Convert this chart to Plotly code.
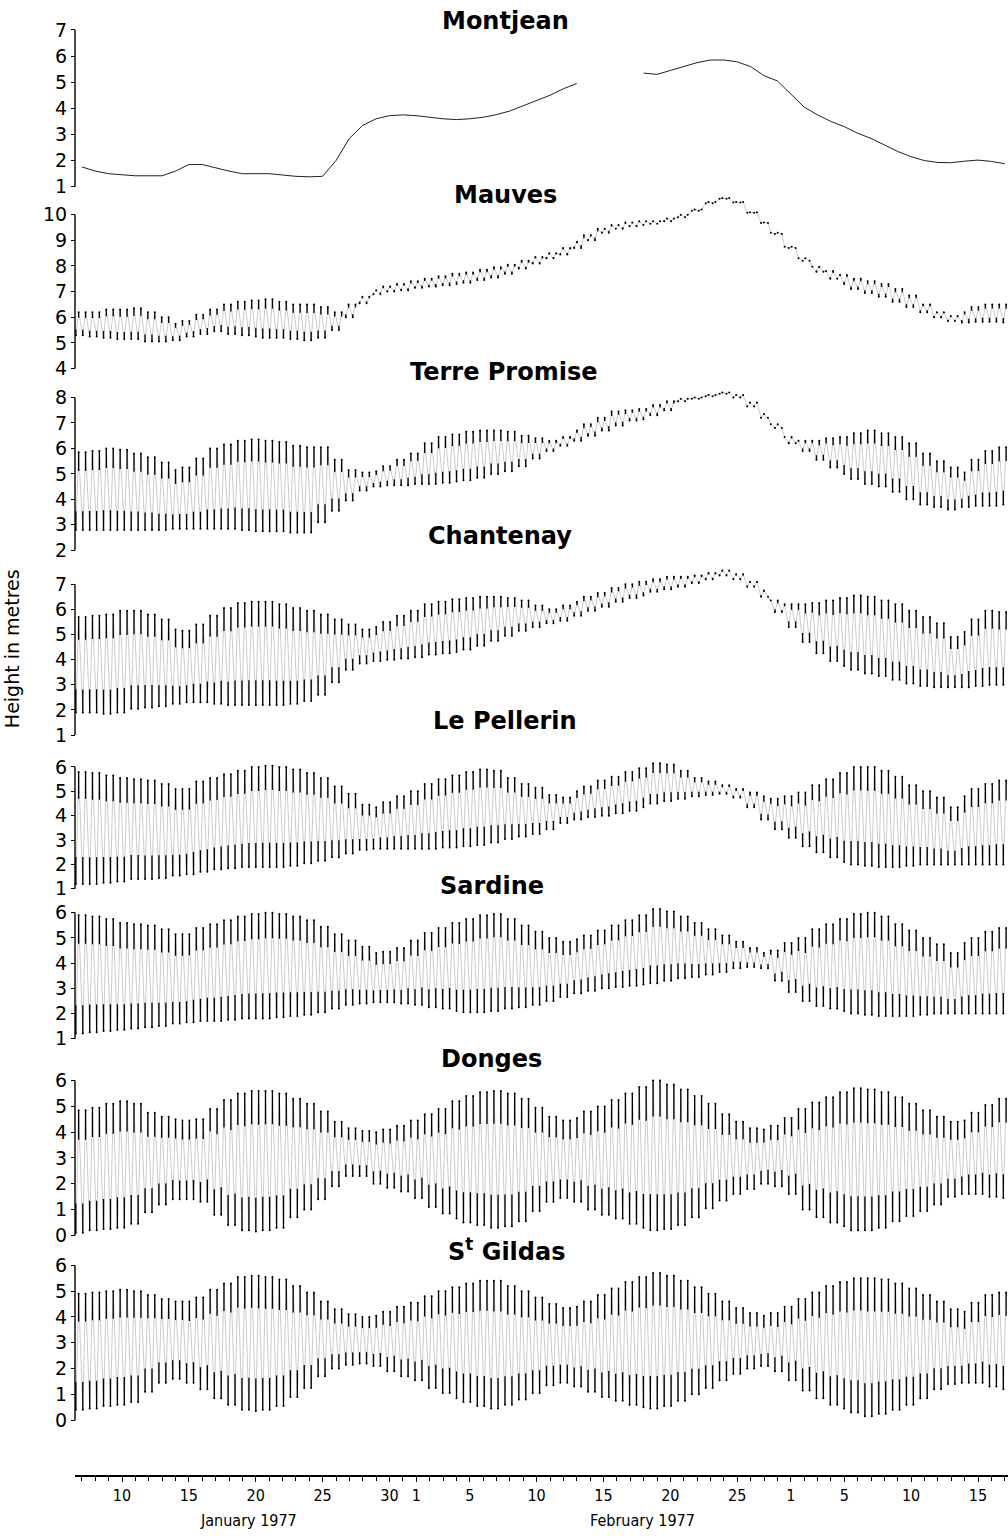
import plotly.graph_objects as go

# Water levels on the Loire estuary, January - March 1977.
# Day numbers count from 0 January 1977 (1 Feb = 32, 1 Mar = 60).
DAYS = list(range(7, 77))

# River gauge (no tide): daily level in metres
MONTJEAN = [1.76, 1.6, 1.5, 1.45, 1.42, 1.42, 1.42, 1.6, 1.85, 1.85,
            1.72, 1.6, 1.5, 1.5, 1.5, 1.45, 1.4, 1.38, 1.4, 2.0,
            2.85, 3.35, 3.6, 3.72, 3.75, 3.72, 3.66, 3.6, 3.57, 3.6,
            3.66, 3.76, 3.9, 4.1, 4.3, 4.5, 4.75, 4.95, None, None,
            None, None, 5.35, 5.3, 5.45, 5.6, 5.75, 5.85, 5.85, 5.78,
            5.6, 5.25, 5.05, 4.55, 4.05, 3.75, 3.5, 3.3, 3.05, 2.85,
            2.6, 2.35, 2.15, 2.0, 1.93, 1.92, 1.98, 2.02, 1.97, 1.88]

# Tidal gauges: daily high-water and low-water levels in metres
MAUVES_HW = [6.2, 6.2, 6.3, 6.3, 6.35, 6.2, 6.0, 5.75, 5.85, 6.1,
             6.3, 6.5, 6.6, 6.65, 6.7, 6.6, 6.5, 6.5, 6.4, 6.2,
             6.5, 6.8, 7.05, 7.2, 7.3, 7.4, 7.5, 7.6, 7.7, 7.75,
             7.85, 7.95, 8.05, 8.2, 8.35, 8.5, 8.7, 8.95, 9.2, 9.45,
             9.6, 9.7, 9.75, 9.75, 9.85, 10.0, 10.2, 10.5, 10.65, 10.5,
             10.1, 9.7, 9.3, 8.75, 8.3, 7.97, 7.8, 7.65, 7.5, 7.4,
             7.3, 7.1, 6.85, 6.5, 6.2, 6.05, 6.2, 6.4, 6.5, 6.5]
MAUVES_LW = [5.3, 5.25, 5.2, 5.15, 5.15, 5.05, 5.05, 5.1, 5.25, 5.35,
             5.45, 5.35, 5.3, 5.25, 5.2, 5.2, 5.15, 5.1, 5.2, 5.5,
             6.0, 6.55, 6.9, 7.0, 7.05, 7.15, 7.2, 7.25, 7.3, 7.35,
             7.45, 7.55, 7.7, 7.9, 8.1, 8.3, 8.45, 8.7, 9.0, 9.3,
             9.45, 9.55, 9.6, 9.65, 9.75, 9.9, 10.15, 10.45, 10.62, 10.48,
             10.08, 9.68, 9.25, 8.7, 8.2, 7.78, 7.5, 7.3, 7.1, 6.95,
             6.8, 6.6, 6.4, 6.2, 6.0, 5.85, 5.8, 5.82, 5.82, 5.8]

TERRE_HW = [5.85, 5.9, 6.0, 5.95, 5.8, 5.65, 5.45, 5.15, 5.25, 5.6,
            6.0, 6.15, 6.3, 6.35, 6.3, 6.25, 6.1, 6.05, 6.05, 5.55,
            5.15, 5.05, 5.1, 5.3, 5.55, 5.8, 6.2, 6.45, 6.55, 6.65,
            6.7, 6.7, 6.65, 6.5, 6.4, 6.3, 6.45, 6.7, 6.95, 7.2,
            7.45, 7.5, 7.55, 7.7, 7.85, 7.95, 8.0, 8.1, 8.2, 8.1,
            7.8, 7.35, 6.95, 6.45, 6.3, 6.3, 6.4, 6.45, 6.6, 6.7,
            6.6, 6.45, 6.2, 5.8, 5.5, 5.25, 5.05, 5.55, 5.9, 6.05]
TERRE_LW = [2.8, 2.8, 2.8, 2.8, 2.8, 2.8, 2.8, 2.85, 2.85, 2.85,
            2.85, 2.85, 2.8, 2.75, 2.75, 2.75, 2.7, 2.7, 3.1, 3.55,
            3.95, 4.35, 4.5, 4.55, 4.55, 4.6, 4.6, 4.65, 4.7, 4.75,
            4.85, 5.0, 5.1, 5.3, 5.6, 5.9, 6.1, 6.3, 6.5, 6.7,
            6.9, 7.1, 7.15, 7.3, 7.5, 7.85, 7.95, 8.05, 8.15, 8.0,
            7.65, 7.2, 6.8, 6.2, 5.9, 5.55, 5.25, 5.0, 4.8, 4.6,
            4.5, 4.3, 4.0, 3.8, 3.7, 3.6, 3.7, 3.75, 3.75, 3.8]

CHANTENAY_HW = [5.7, 5.75, 5.8, 5.95, 5.95, 5.8, 5.6, 5.2, 5.15, 5.4,
                5.75, 6.05, 6.25, 6.3, 6.3, 6.2, 6.05, 5.95, 5.8, 5.6,
                5.4, 5.2, 5.3, 5.5, 5.75, 5.95, 6.2, 6.3, 6.4, 6.45,
                6.5, 6.5, 6.45, 6.35, 6.15, 6.0, 6.15, 6.3, 6.5, 6.65,
                6.85, 7.0, 7.1, 7.2, 7.3, 7.3, 7.35, 7.45, 7.55, 7.4,
                7.1, 6.75, 6.35, 6.2, 6.2, 6.25, 6.35, 6.45, 6.55, 6.5,
                6.35, 6.2, 5.95, 5.7, 5.45, 4.9, 5.1, 5.6, 5.95, 5.9]
CHANTENAY_LW = [1.9, 1.9, 1.85, 1.9, 2.05, 2.1, 2.15, 2.25, 2.3, 2.3,
                2.25, 2.2, 2.2, 2.2, 2.2, 2.2, 2.25, 2.35, 2.6, 3.1,
                3.6, 3.85, 3.95, 4.0, 4.05, 4.1, 4.2, 4.25, 4.3, 4.4,
                4.55, 4.75, 4.95, 5.15, 5.3, 5.45, 5.55, 5.75, 5.95, 6.1,
                6.3, 6.45, 6.55, 6.7, 6.8, 6.9, 7.05, 7.2, 7.35, 7.2,
                6.9, 6.5, 5.9, 5.3, 4.7, 4.25, 3.95, 3.75, 3.6, 3.45,
                3.35, 3.2, 3.05, 2.95, 2.9, 2.9, 2.9, 2.95, 3.0, 3.0]

PELLERIN_HW = [5.8, 5.75, 5.65, 5.55, 5.5, 5.45, 5.3, 5.1, 5.1, 5.4,
               5.55, 5.7, 5.85, 6.0, 6.05, 6.0, 5.9, 5.75, 5.55, 5.2,
               4.9, 4.45, 4.35, 4.55, 4.8, 5.0, 5.3, 5.5, 5.65, 5.8,
               5.9, 5.85, 5.55, 5.3, 5.15, 4.85, 4.75, 5.0, 5.2, 5.45,
               5.6, 5.8, 5.95, 6.15, 6.1, 5.85, 5.55, 5.4, 5.25, 5.1,
               4.95, 4.8, 4.7, 4.8, 4.95, 5.25, 5.5, 5.75, 6.0, 6.0,
               5.85, 5.6, 5.25, 5.0, 4.75, 4.35, 4.8, 5.1, 5.3, 5.45]
PELLERIN_LW = [1.2, 1.2, 1.25, 1.3, 1.4, 1.4, 1.45, 1.55, 1.6, 1.7,
               1.8, 1.85, 1.9, 1.9, 1.9, 1.9, 1.95, 2.05, 2.15, 2.3,
               2.45, 2.6, 2.65, 2.65, 2.65, 2.65, 2.65, 2.7, 2.7, 2.75,
               2.8, 2.9, 3.05, 3.15, 3.25, 3.45, 3.7, 3.85, 3.95, 4.0,
               4.1, 4.2, 4.35, 4.5, 4.6, 4.7, 4.8, 4.85, 4.9, 4.75,
               4.35, 3.85, 3.45, 3.1, 2.75, 2.5, 2.3, 2.1, 2.0, 1.95,
               1.9, 1.9, 1.95, 2.0, 2.0, 2.0, 2.0, 2.0, 2.0, 2.0]

SARDINE_HW = [5.9, 5.85, 5.75, 5.6, 5.55, 5.5, 5.35, 5.15, 5.15, 5.4,
              5.55, 5.7, 5.85, 5.95, 6.0, 5.95, 5.85, 5.7, 5.45, 5.15,
              4.9, 4.65, 4.4, 4.45, 4.6, 4.9, 5.2, 5.4, 5.6, 5.75,
              5.9, 5.95, 5.75, 5.5, 5.25, 5.0, 4.85, 4.95, 5.1, 5.3,
              5.5, 5.7, 5.9, 6.15, 6.05, 5.85, 5.6, 5.35, 5.1, 4.85,
              4.6, 4.4, 4.5, 4.8, 5.0, 5.35, 5.55, 5.75, 5.95, 6.0,
              5.85, 5.55, 5.3, 5.0, 4.75, 4.4, 4.8, 5.0, 5.25, 5.4]
SARDINE_LW = [1.2, 1.25, 1.3, 1.35, 1.4, 1.45, 1.5, 1.6, 1.65, 1.7,
              1.7, 1.75, 1.8, 1.8, 1.8, 1.85, 1.9, 1.95, 2.05, 2.2,
              2.35, 2.4, 2.45, 2.45, 2.4, 2.35, 2.25, 2.2, 2.1, 2.05,
              2.05, 2.1, 2.2, 2.25, 2.35, 2.5, 2.65, 2.8, 2.9, 3.0,
              3.05, 3.1, 3.15, 3.2, 3.3, 3.4, 3.45, 3.55, 3.65, 3.8,
              3.85, 3.8, 3.3, 2.85, 2.5, 2.3, 2.2, 2.1, 2.0, 1.95,
              1.9, 1.9, 1.9, 1.95, 2.0, 2.0, 2.0, 2.0, 2.0, 2.0]

DONGES_HW = [4.85, 4.95, 5.1, 5.2, 5.1, 4.75, 4.6, 4.5, 4.45, 4.5,
             4.9, 5.25, 5.5, 5.6, 5.6, 5.5, 5.3, 5.1, 4.8, 4.4,
             4.15, 4.05, 4.0, 4.1, 4.25, 4.45, 4.7, 4.9, 5.2, 5.4,
             5.55, 5.6, 5.5, 5.3, 4.95, 4.6, 4.45, 4.55, 4.8, 5.0,
             5.25, 5.5, 5.75, 6.0, 5.85, 5.65, 5.4, 5.1, 4.7, 4.4,
             4.15, 4.1, 4.25, 4.55, 4.9, 5.15, 5.35, 5.55, 5.7, 5.65,
             5.55, 5.35, 5.1, 4.85, 4.6, 4.4, 4.45, 4.75, 5.05, 5.3]
DONGES_LW = [0.1, 0.2, 0.25, 0.3, 0.45, 0.9, 1.2, 1.4, 1.4, 1.3,
             0.8, 0.4, 0.2, 0.15, 0.2, 0.3, 0.7, 1.0, 1.4, 1.9,
             2.3, 2.3, 2.0, 1.85, 1.7, 1.45, 1.1, 0.85, 0.65, 0.5,
             0.4, 0.3, 0.35, 0.55, 0.95, 1.3, 1.45, 1.3, 1.0, 0.8,
             0.65, 0.45, 0.3, 0.2, 0.25, 0.4, 0.7, 1.05, 1.35, 1.6,
             1.8, 2.0, 1.9, 1.6, 1.0, 0.7, 0.5, 0.35, 0.2, 0.2,
             0.3, 0.55, 0.75, 0.95, 1.2, 1.5, 1.6, 1.6, 1.5, 1.45]

GILDAS_HW = [4.9, 4.95, 5.0, 5.05, 5.0, 4.85, 4.7, 4.6, 4.6, 4.75,
             5.05, 5.3, 5.55, 5.6, 5.55, 5.45, 5.2, 4.95, 4.6, 4.3,
             4.1, 4.0, 4.05, 4.2, 4.4, 4.55, 4.8, 5.0, 5.15, 5.3,
             5.4, 5.4, 5.2, 5.0, 4.75, 4.5, 4.35, 4.4, 4.6, 4.85,
             5.1, 5.35, 5.55, 5.7, 5.6, 5.4, 5.15, 4.9, 4.6, 4.35,
             4.15, 4.05, 4.15, 4.4, 4.7, 4.95, 5.2, 5.35, 5.5, 5.5,
             5.45, 5.3, 5.1, 4.85, 4.6, 4.3, 4.2, 4.55, 4.85, 4.95]
GILDAS_LW = [0.4, 0.45, 0.55, 0.6, 0.7, 1.1, 1.45, 1.6, 1.45, 1.2,
             0.85, 0.6, 0.4, 0.35, 0.4, 0.55, 0.9, 1.25, 1.7, 2.0,
             2.15, 2.2, 2.1, 1.9, 1.7, 1.55, 1.25, 1.05, 0.85, 0.7,
             0.55, 0.45, 0.6, 0.8, 1.05, 1.35, 1.45, 1.3, 1.1, 0.9,
             0.75, 0.6, 0.5, 0.45, 0.55, 0.75, 1.0, 1.25, 1.55, 1.8,
             2.0, 2.1, 1.9, 1.55, 1.15, 0.85, 0.6, 0.45, 0.3, 0.15,
             0.25, 0.4, 0.6, 0.85, 1.2, 1.4, 1.45, 1.45, 1.3, 1.2]

X_TICK_DAYS = [10, 15, 20, 25, 30, 32, 36, 41, 46, 51, 56, 60, 64, 69, 74]
X_TICK_TEXT = ["10", "15", "20", "25", "30", "1", "5", "10", "15", "20", "25",
               "1", "5", "10", "15"]
MONTH_LABELS = ["January 1977", "February 1977"]

for series in (MONTJEAN, MAUVES_HW, MAUVES_LW, TERRE_HW, TERRE_LW,
               CHANTENAY_HW, CHANTENAY_LW, PELLERIN_HW, PELLERIN_LW,
               SARDINE_HW, SARDINE_LW, DONGES_HW, DONGES_LW,
               GILDAS_HW, GILDAS_LW):
    assert len(series) == len(DAYS)

# ---- page geometry (pixels) ----
W, H = 1008, 1536
AXIS_PX = 75                      # left edge of every panel
DAY10_PX, PX_PER_DAY = 122, 13.375


def px_to_day(px):
    return 10 + (px - DAY10_PX) / PX_PER_DAY


def yp(px):
    return 1 - px / H


# title, high (or level), low, axis min, axis max, px of min, px of max, title centre
PANELS = [
    ("Montjean", MONTJEAN, None, 1, 7, 187, 30, 505, 21),
    ("Mauves", MAUVES_HW, MAUVES_LW, 4, 10, 369, 215, 505, 195),
    ("Terre Promise", TERRE_HW, TERRE_LW, 2, 8, 551, 398, 503, 372),
    ("Chantenay", CHANTENAY_HW, CHANTENAY_LW, 1, 7, 736, 585, 500, 537),
    ("Le Pellerin", PELLERIN_HW, PELLERIN_LW, 1, 6, 890, 768, 505, 722),
    ("Sardine", SARDINE_HW, SARDINE_LW, 1, 6, 1040, 914, 492, 887),
    ("Donges", DONGES_HW, DONGES_LW, 0, 6, 1237, 1082, 491, 1060),
    ("S<sup>t</sup> Gildas", GILDAS_HW, GILDAS_LW, 0, 6, 1422, 1267, 507, 1252),
]

TIDE_PERIOD = 12.42 / 24.0
FIRST_LOW = 6.55
RISE_FRACTION = 0.4
STROKE_FRACTION = 0.24


def day_index(t):
    return min(max(int(round(t)) - DAYS[0], 0), len(DAYS) - 1)


def tide_record(high, low):
    """Semi-diurnal trace built from the daily high/low water levels."""
    zx, zy = [], []
    hx, hy, hlen = [], [], []
    lx, ly, llen = [], [], []
    t = FIRST_LOW
    while t < 76.3:
        il = day_index(t)
        th = t + RISE_FRACTION * TIDE_PERIOD
        ih = day_index(th)
        lo_v, hi_v = low[il], high[ih]
        zx += [t, th]
        zy += [lo_v, hi_v]
        rng = max(hi_v - lo_v, 0)
        lx.append(t); ly.append(lo_v); llen.append(STROKE_FRACTION * rng)
        hx.append(th); hy.append(hi_v); hlen.append(STROKE_FRACTION * rng)
        t += TIDE_PERIOD
    return zx, zy, (hx, hy, hlen), (lx, ly, llen)


fig = go.Figure()
layout = dict(
    width=W, height=H,
    margin=dict(l=0, r=0, t=0, b=0),
    paper_bgcolor="white", plot_bgcolor="white",
    showlegend=False,
    font=dict(family="DejaVu Sans", color="black"),
    xaxis=dict(
        domain=[AXIS_PX / W, 1.0],
        range=[px_to_day(AXIS_PX), px_to_day(W)],
        anchor="free", position=yp(1478),
        showgrid=False, zeroline=False,
        showline=True, linecolor="black", linewidth=1.8,
        tickmode="array", tickvals=X_TICK_DAYS, ticktext=X_TICK_TEXT,
        ticks="outside", ticklen=5, tickwidth=1.2, tickcolor="black",
        minor=dict(ticks="outside", tickmode="linear", tick0=0, dtick=1,
                   ticklen=4, tickwidth=1, tickcolor="black"),
        tickfont=dict(family="Liberation Sans Narrow, DejaVu Sans Condensed, Liberation Sans",
                      size=16, color="black"),
    ),
)

shapes, annotations = [], []
PAD_LO, PAD_HI = 0.35, 0.9

for k, (title, high, low, vmin, vmax, px_min, px_max, tx, ty) in enumerate(PANELS):
    n = k + 1
    yname = "yaxis" if n == 1 else f"yaxis{n}"
    yref = "y" if n == 1 else f"y{n}"
    ppu = (px_min - px_max) / (vmax - vmin)
    bottom_px = px_min + PAD_LO * ppu
    top_px = px_max - PAD_HI * ppu
    layout[yname] = dict(
        domain=[yp(bottom_px), yp(top_px)],
        range=[vmin - PAD_LO, vmax + PAD_HI],
        anchor="free", position=AXIS_PX / W,
        showgrid=False, zeroline=False, showline=False,
        tickmode="array", tickvals=list(range(vmin, vmax + 1)),
        ticks="outside", ticklen=4, tickwidth=1.2, tickcolor="black",
        tickfont=dict(family="DejaVu Sans", size=19, color="black"),
    )
    shapes.append(dict(type="line", xref="paper", yref=yref,
                       x0=AXIS_PX / W, x1=AXIS_PX / W, y0=vmin, y1=vmax,
                       line=dict(color="black", width=1.4)))
    annotations.append(dict(text=f"<b>{title}</b>", xref="paper", yref="paper",
                            x=tx / W, y=yp(ty), xanchor="center", yanchor="middle",
                            showarrow=False,
                            font=dict(family="DejaVu Sans", size=24, color="black")))

    if low is None:
        fig.add_trace(go.Scatter(x=DAYS, y=high, mode="lines", xaxis="x", yaxis=yref,
                                 line=dict(color="#222222", width=1.0),
                                 connectgaps=False, hoverinfo="skip"))
        continue

    zx, zy, hw, lw = tide_record(high, low)
    fig.add_trace(go.Scatter(x=zx, y=zy, mode="lines", xaxis="x", yaxis=yref,
                             line=dict(color="#b4b4b4", width=0.7), hoverinfo="skip"))
    fig.add_trace(go.Scatter(
        x=hw[0], y=hw[1], mode="markers", xaxis="x", yaxis=yref,
        marker=dict(size=2, color="black"), hoverinfo="skip",
        error_y=dict(type="data", symmetric=False, array=[0] * len(hw[2]),
                     arrayminus=hw[2], color="black", thickness=1.3, width=0)))
    fig.add_trace(go.Scatter(
        x=lw[0], y=lw[1], mode="markers", xaxis="x", yaxis=yref,
        marker=dict(size=2, color="black"), hoverinfo="skip",
        error_y=dict(type="data", symmetric=False, array=lw[2],
                     arrayminus=[0] * len(lw[2]), color="black", thickness=1.3, width=0)))

annotations.append(dict(text="Height in metres", xref="paper", yref="paper",
                        x=12 / W, y=yp(650), textangle=-90, showarrow=False,
                        xanchor="center", yanchor="middle",
                        font=dict(family="DejaVu Sans", size=19, color="black")))
for label, cx in zip(MONTH_LABELS, (248, 642)):
    annotations.append(dict(text=label, xref="paper", yref="paper",
                            x=cx / W, y=yp(1522), showarrow=False,
                            xanchor="center", yanchor="middle",
                            font=dict(family="Liberation Sans Narrow, DejaVu Sans Condensed, Liberation Sans",
                                      size=16, color="black")))

layout["shapes"] = shapes
layout["annotations"] = annotations
fig.update_layout(**layout)
fig.write_html("out.html")
